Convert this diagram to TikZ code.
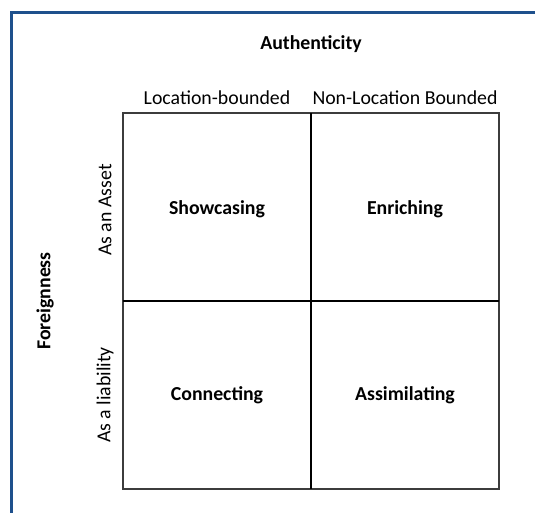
\documentclass[tikz,border=0pt]{standalone}
\usepackage{fontspec}
\setmainfont{Carlito}
\definecolor{frameblue}{RGB}{30,80,140}
\definecolor{gridgray}{RGB}{60,60,60}
\begin{document}
\begin{tikzpicture}[x=1pt,y=-1pt,
  lbl/.style={inner sep=0pt,font=\fontsize{19.8}{23}\selectfont},
  head/.style={lbl,font=\fontsize{19.8}{23}\selectfont\bfseries},
  cell/.style={lbl,font=\fontsize{19.8}{23}\selectfont\bfseries}]
\useasboundingbox (0,0) rectangle (535,512);
% partial outer frame
\draw[frameblue,line width=3pt] (11,530) -- (11,12) -- (545,12);
% the 2x2 grid
\coordinate (tl) at (123,113);
\coordinate (br) at (499,489);
\draw[gridgray,line width=1.1pt] (tl) rectangle (br);
\coordinate (mt) at (311,113);
\coordinate (mb) at (311,489);
\coordinate (ml) at (123,301);
\coordinate (mr) at (499,301);
\draw[black,line width=1.1pt] (mt) -- (mb);
\draw[black,line width=1.1pt] (ml) -- (mr);
% axis titles
\node[head] (auth) at (311,44) {Authenticity};
\node[head,rotate=90] (foreign) at (45,301) {Foreignness};
% column and row headings
\node[lbl] (colA) at (217,98) {Location-bounded};
\node[lbl] (colB) at (405,98) {Non-Location Bounded};
\node[lbl,rotate=90] (rowA) at (105,210) {As an Asset};
\node[lbl,rotate=90] (rowB) at (105,395) {As a liability};
% quadrant labels
\node[cell] (q1) at (217,209) {Showcasing};
\node[cell] (q2) at (405,209) {Enriching};
\node[cell] (q3) at (217,395) {Connecting};
\node[cell] (q4) at (405,395) {Assimilating};
\end{tikzpicture}
\end{document}
